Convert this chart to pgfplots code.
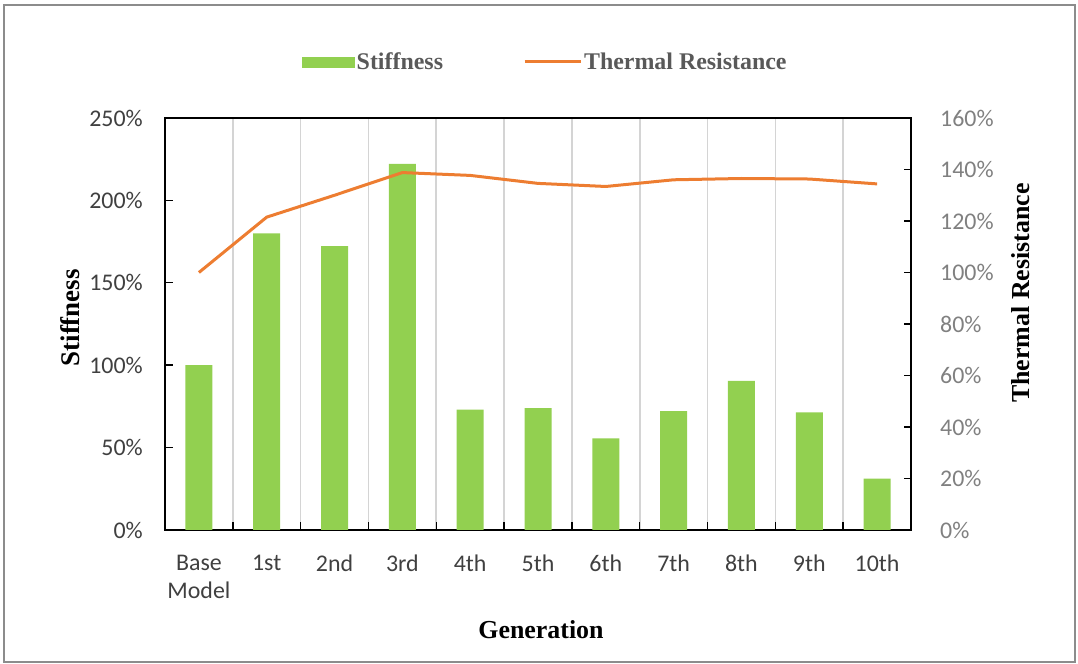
\documentclass[border=0pt]{standalone}
\usepackage{pgfplots}
\usepackage{pgfplotstable}
\pgfplotsset{compat=1.18}
\usepackage{fontspec}
\setmainfont{Liberation Serif}
\newfontfamily\calibri{Carlito}

\definecolor{barGreen}{HTML}{92D050}
\definecolor{lineOrange}{HTML}{ED7D31}
\definecolor{tickDark}{HTML}{404040}
\definecolor{tickLight}{HTML}{808080}
\definecolor{legendGray}{HTML}{595959}
\definecolor{gridGray}{HTML}{D4D4D4}
\definecolor{frameGray}{HTML}{8C8C8C}

% generation index, stiffness (%), thermal resistance (%)
\pgfplotstableread{
idx stiff thermal
0  100.0 100.0
1  180.0 121.5
2  172.3 130.0
3  222.2 138.8
4   73.1 137.7
5   73.9 134.6
6   55.6 133.4
7   72.2 136.0
8   90.5 136.5
9   71.4 136.3
10  31.1 134.4
}\gentable

\begin{document}
\begin{tikzpicture}[x=1bp,y=1bp]
\path (0,0) rectangle (1078,664);
\draw[frameGray, line width=1.2bp] (4,2) rectangle (1075,659);

% stiffness bars on the left axis; x ticks sit on the category boundaries,
% each label is moved half a category to the right onto its bar
\begin{axis}[
  at={(165bp,134bp)}, anchor=south west,
  scale only axis, width=746bp, height=412bp,
  xmin=-0.5, xmax=10.5, ymin=0, ymax=250,
  axis line style={line width=1.6bp, black},
  xtick={-0.5,0.5,...,10.5},
  xticklabels={Base\\Model,1st,2nd,3rd,4th,5th,6th,7th,8th,9th,10th,{}},
  xmajorgrids,
  major grid style={gridGray, line width=1.6bp},
  major tick length=8bp,
  tick style={black, line width=1.4bp},
  tick align=inside,
  xtick pos=bottom, ytick pos=left,
  ytick={0,50,...,250},
  yticklabels={0\%,50\%,100\%,150\%,200\%,250\%},
  yticklabel style={font=\calibri\fontsize{24}{28}\selectfont, text=tickDark, inner sep=0pt, xshift=-22bp},
  xticklabel style={font=\calibri\fontsize{24}{28}\selectfont, text=tickDark, align=center, inner sep=0pt, yshift=-25bp, xshift=33.9bp},
  xlabel={Generation},
  xlabel style={at={(axis description cs:0.504,-0.243)}, anchor=center, font=\bfseries\fontsize{26}{30}\selectfont},
  ylabel={Stiffness},
  ylabel style={at={(axis description cs:-0.127,0.515)}, anchor=center, font=\bfseries\fontsize{27}{31}\selectfont},
]
\addplot[ybar, bar width=27bp, fill=barGreen, draw=none] table[x=idx, y=stiff] {\gentable};
\end{axis}

% thermal resistance line on the right axis
\begin{axis}[
  at={(165bp,134bp)}, anchor=south west,
  scale only axis, width=746bp, height=412bp,
  xmin=-0.5, xmax=10.5, ymin=0, ymax=160,
  axis x line=none, axis y line*=right,
  axis line style={line width=1.6bp, black, -},
  tick style={black, line width=1.4bp},
  tick align=inside, major tick length=7bp,
  ytick={0,20,...,160},
  yticklabels={0\%,20\%,40\%,60\%,80\%,100\%,120\%,140\%,160\%},
  yticklabel style={font=\calibri\fontsize{24}{28}\selectfont, text=tickLight, inner sep=0pt, xshift=29bp},
  ylabel={Thermal Resistance},
  ylabel style={at={(axis description cs:1.147,0.575)}, anchor=center, font=\bfseries\fontsize{26}{30}\selectfont},
  legend columns=2,
  legend style={at={(axis description cs:0.51,1.136)}, anchor=center, draw=none, fill=none,
    font=\bfseries\fontsize{24}{28}\selectfont, text=legendGray,
    /tikz/every even column/.append style={column sep=78bp}},
]
\addlegendimage{legend image code/.code={\fill[barGreen] (0bp,-5bp) rectangle (52bp,5bp);}}
\addlegendentry{Stiffness}
\addplot[lineOrange, line width=3bp, line join=round, mark=none,
  legend image code/.code={\draw[lineOrange, line width=3bp] (0bp,0bp) -- (56bp,0bp);}]
  table[x=idx, y=thermal] {\gentable};
\addlegendentry{Thermal Resistance}
\end{axis}
\end{tikzpicture}
\end{document}
